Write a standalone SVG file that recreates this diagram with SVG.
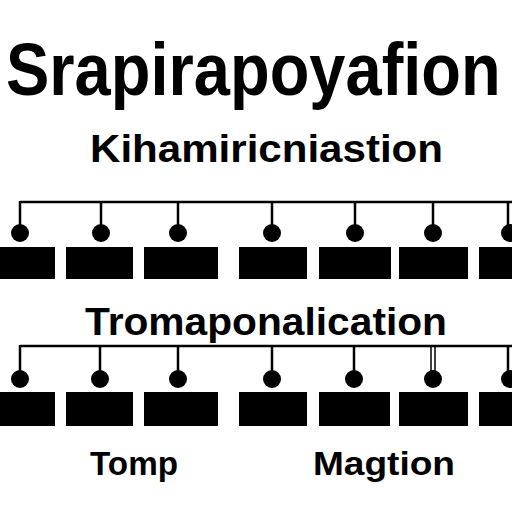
<svg xmlns="http://www.w3.org/2000/svg" width="512" height="512" viewBox="0 0 512 512">
<style>
.t{font-family:"Liberation Sans",Arial,sans-serif;font-weight:bold;fill:#000}
.box{fill:#000}
.ln{stroke:#000;stroke-width:2.5;fill:none}
.dot{fill:#000}
</style>
<rect width="512" height="512" fill="#fff"/>
<g id="titles">
<text class="t" x="6" y="0" font-size="65" transform="translate(0,95) scale(1,1.15)">Srapirapoyafion</text>
<text class="t" x="90" y="162" font-size="38" textLength="353" lengthAdjust="spacingAndGlyphs">Kihamiricniastion</text>
<text class="t" x="85" y="335" font-size="38" textLength="362" lengthAdjust="spacingAndGlyphs">Tromaponalication</text>
<text class="t" x="90" y="475" font-size="33" textLength="88" lengthAdjust="spacingAndGlyphs">Tomp</text>
<text class="t" x="313" y="475" font-size="33" textLength="142" lengthAdjust="spacingAndGlyphs">Magtion</text>
</g>
<g id="connectors">
<path class="ln" d="M20,202H512 M20,201V233 M101,201V233 M178,201V233 M272,201V233 M355,201V233 M433,201V233 M508,201V233"/>
<path class="ln" d="M20,346H512 M20,345V379 M100,345V379 M178,345V379 M272,345V379 M354,345V379 M508,345V379"/>
<path d="M431,345V379 M435,345V379" stroke="#000" stroke-width="1.5"/>
<g class="dot">
<circle cx="20" cy="233" r="9"/><circle cx="101" cy="233" r="9"/><circle cx="178" cy="233" r="9"/><circle cx="272" cy="233" r="9"/><circle cx="355" cy="233" r="9"/><circle cx="433" cy="233" r="9"/><circle cx="510" cy="233" r="9"/>
<circle cx="20" cy="379" r="9"/><circle cx="100" cy="379" r="9"/><circle cx="178" cy="379" r="9"/><circle cx="272" cy="379" r="9"/><circle cx="354" cy="379" r="9"/><circle cx="433" cy="379" r="9"/><circle cx="510" cy="379" r="9"/>
</g>
</g>
<g id="row1">
<g id="n1a"><rect class="box" x="0" y="247" width="55" height="32"/></g>
<g id="n1b"><rect class="box" x="66" y="247" width="67" height="32"/></g>
<g id="n1c"><rect class="box" x="144" y="247" width="74" height="32"/></g>
<g id="n1d"><rect class="box" x="239" y="247" width="68" height="32"/></g>
<g id="n1e"><rect class="box" x="319" y="247" width="72" height="32"/></g>
<g id="n1f"><rect class="box" x="399" y="247" width="69" height="32"/></g>
<g id="n1g"><rect class="box" x="479" y="247" width="33" height="32"/></g>
</g>
<g id="row2">
<g id="n2a"><rect class="box" x="0" y="392" width="55" height="34"/></g>
<g id="n2b"><rect class="box" x="66" y="392" width="67" height="34"/></g>
<g id="n2c"><rect class="box" x="144" y="392" width="74" height="34"/></g>
<g id="n2d"><rect class="box" x="239" y="392" width="68" height="34"/></g>
<g id="n2e"><rect class="box" x="319" y="392" width="71" height="34"/></g>
<g id="n2f"><rect class="box" x="399" y="392" width="69" height="34"/></g>
<g id="n2g"><rect class="box" x="479" y="392" width="33" height="34"/></g>
</g>
</svg>
